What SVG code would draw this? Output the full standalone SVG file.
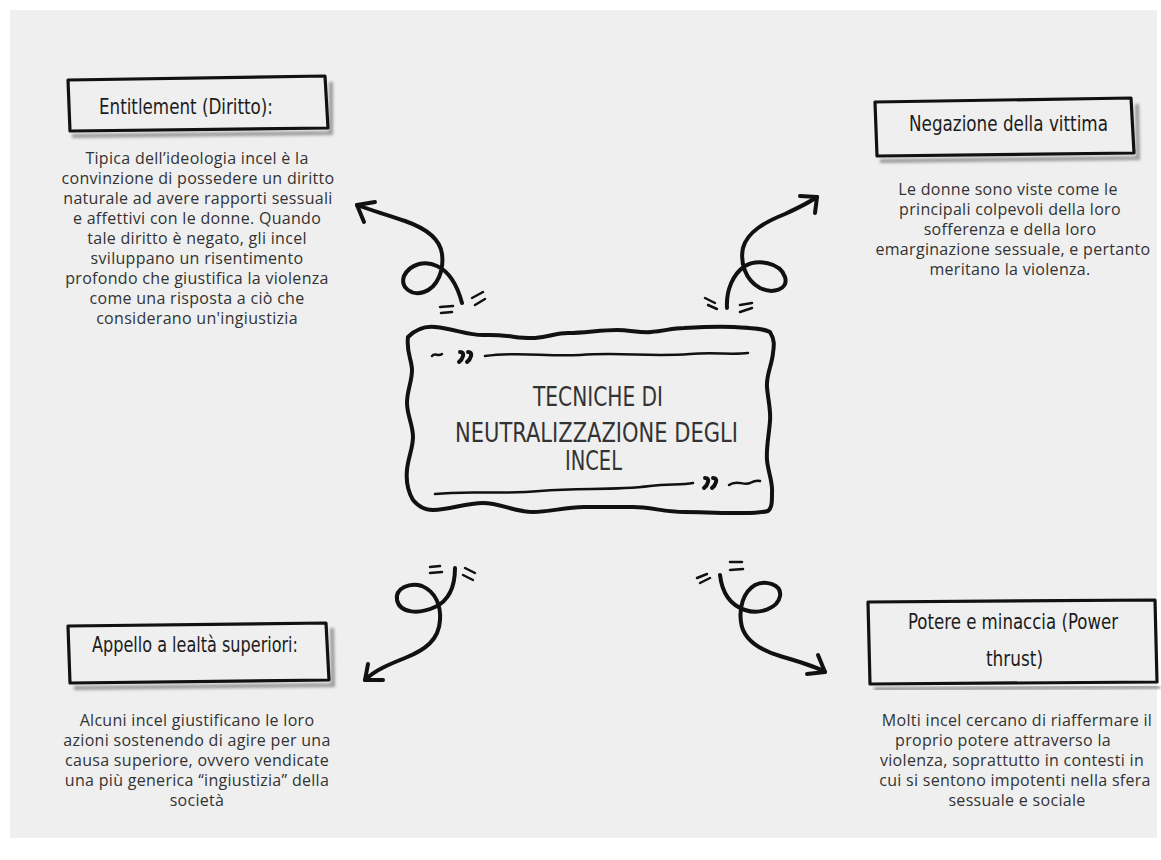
<svg xmlns="http://www.w3.org/2000/svg" width="1161" height="860" viewBox="0 0 1161 860">
<defs>
<filter id="blur" x="-10%" y="-20%" width="120%" height="140%"><feGaussianBlur stdDeviation="1.5"/></filter>
</defs>
<style>
.box{fill:#efefef;stroke:#111;stroke-width:3.2;stroke-linejoin:round}
.shadow{fill:none;stroke:#9a9a9a;stroke-width:4;filter:url(#blur)}
.head{font-family:"DejaVu Sans Condensed","DejaVu Sans",sans-serif;font-size:21px;fill:#1c1c1c;text-anchor:middle}
.title{font-family:"DejaVu Sans Condensed","DejaVu Sans",sans-serif;font-size:26px;fill:#333;text-anchor:middle}
.body{font-family:"Open Sans","Noto Sans",sans-serif;font-size:16px;letter-spacing:0.3px;fill:#333;text-anchor:middle}
.ln{fill:none;stroke:#111;stroke-width:4;stroke-linecap:round;stroke-linejoin:round}
.thin{fill:none;stroke:#111;stroke-width:2.5;stroke-linecap:round}
</style>
<rect x="0" y="0" width="1161" height="860" fill="#ffffff"/>
<rect x="10" y="10" width="1147" height="828" fill="#efefef"/>

<g id="center">
<path d="M408,337 C415,330 425,326 435,327 C455,329 470,336 485,335 C505,334 520,339 535,338 C550,337 555,333 568,333 C585,333 600,330 617,330 C630,330 640,333 651,332 C665,331 672,328 684,328 C700,327 718,326 734,327 C750,328 762,328 770,332 C775,340 774,346 773,353 C772,365 766,375 767,387 C768,400 771,410 770,421 C769,435 766,448 767,460 C768,472 773,482 772,493 C772,502 772,508 768,511 C755,514 745,513 733,513 C715,513 700,512 684,512 C665,512 650,507 633,507 C615,507 600,507 584,507 C565,507 550,512 533,512 C515,512 500,503 483,503 C465,503 450,510 433,510 C425,510 418,506 413,500 C407,490 406,480 407,470 C408,458 413,448 413,437 C413,425 407,415 407,403 C407,390 412,382 412,370 C412,360 406,352 408,337 Z" fill="none" stroke="#111" stroke-width="4"/>
<path class="thin" d="M432,356 C435,352 438,357 442,354"/>
<path class="ln" d="M460,352 q4,0 3,4 q-1,4 -4,6 M468,352 q4,0 3,4 q-1,4 -4,6" stroke-width="3.5"/>
<path class="thin" d="M485,356 C520,351 545,357 580,355 C620,352 650,357 690,354 C715,352 730,355 748,353"/>
<path class="thin" d="M435,494 C470,490 500,495 540,491 C580,487 610,491 650,486 C670,484 682,485 693,483"/>
<path class="ln" d="M705,478 q4,0 3,4 q-1,4 -4,6 M713,478 q4,0 3,4 q-1,4 -4,6" stroke-width="3.5"/>
<path class="thin" d="M729,485 C737,479 743,486 750,483 C754,481 757,480 760,481"/>
<text class="title" x="598" y="406" textLength="130" lengthAdjust="spacingAndGlyphs">TECNICHE DI</text>
<text class="title" x="596.5" y="442" textLength="283" lengthAdjust="spacingAndGlyphs">NEUTRALIZZAZIONE DEGLI</text>
<text class="title" x="593.5" y="470" textLength="57" lengthAdjust="spacingAndGlyphs">INCEL</text>
</g>

<g id="node-entitlement">
<path class="shadow" d="M72,136 L331,133 L331,82"/>
<path class="box" d="M68,80 L325,76 L328,128 L70,131 Z"/>
<text class="head" x="186" y="114" textLength="174" lengthAdjust="spacingAndGlyphs">Entitlement (Diritto):</text>
<text class="body" x="197" y="164">Tipica dell’ideologia incel è la</text>
<text class="body" x="198" y="184">convinzione di possedere un diritto</text>
<text class="body" x="198" y="204">naturale ad avere rapporti sessuali</text>
<text class="body" x="197" y="224">e affettivi con le donne. Quando</text>
<text class="body" x="197" y="244">tale diritto è negato, gli incel</text>
<text class="body" x="197" y="264">sviluppano un risentimento</text>
<text class="body" x="197" y="284">profondo che giustifica la violenza</text>
<text class="body" x="197" y="304">come una risposta a ciò che</text>
<text class="body" x="197" y="324">considerano un'ingiustizia</text>
</g>

<g id="node-negazione">
<path class="shadow" d="M880,161 L1138,158 L1137,104"/>
<path class="box" d="M875,102 L1131,98 L1134,153 L877,156 Z"/>
<text class="head" x="1008.5" y="131" textLength="199" lengthAdjust="spacingAndGlyphs">Negazione della vittima</text>
<text class="body" x="1008" y="195">Le donne sono viste come le</text>
<text class="body" x="1010" y="215">principali colpevoli della loro</text>
<text class="body" x="1010" y="235">sofferenza e della loro</text>
<text class="body" x="1013" y="255">emarginazione sessuale, e pertanto</text>
<text class="body" x="1010" y="275">meritano la violenza.</text>
</g>

<g id="node-appello">
<path class="shadow" d="M74,688 L333,685 L332,628"/>
<path class="box" d="M68,626 L326,623 L329,680 L70,683 Z"/>
<text class="head" x="195" y="652" textLength="206" lengthAdjust="spacingAndGlyphs">Appello a lealtà superiori:</text>
<text class="body" x="197" y="726">Alcuni incel giustificano le loro</text>
<text class="body" x="197" y="746">azioni sostenendo di agire per una</text>
<text class="body" x="197" y="766">causa superiore, ovvero vendicate</text>
<text class="body" x="197" y="786">una più generica “ingiustizia” della</text>
<text class="body" x="197" y="806">società</text>
</g>

<g id="node-potere">
<path class="shadow" d="M874,689 L1160,687"/>
<path class="box" d="M868,602 L1155,600 L1157,682 L870,684 Z"/>
<text class="head" x="1013" y="629" textLength="210" lengthAdjust="spacingAndGlyphs">Potere e minaccia (Power</text>
<text class="head" x="1014.5" y="666" textLength="57" lengthAdjust="spacingAndGlyphs">thrust)</text>
<text class="body" x="1017" y="726">Molti incel cercano di riaffermare il</text>
<text class="body" x="1003" y="746">proprio potere attraverso la</text>
<text class="body" x="1012" y="766">violenza, soprattutto in contesti in</text>
<text class="body" x="1015" y="786">cui si sentono impotenti nella sfera</text>
<text class="body" x="1017" y="806">sessuale e sociale</text>
</g>

<g id="connectors">
<path class="ln" d="M462,303 C458,288 450,272 437,266 C425,260 410,264 404,276 C400,288 412,296 424,292 C438,287 444,270 442,254 C440,238 425,228 405,221 C385,214 370,210 357,205"/>
<path class="ln" d="M375,202 L357,205 L364,222"/>
<path class="thin" d="M440,307 L453,306 M441,313 L452,312 M472,298 L483,292 M475,305 L485,299"/>

<path class="ln" d="M727,308 C726,290 733,274 745,266 C757,259 780,262 785,277 C789,290 772,294 760,288 C745,280 740,262 743,248 C747,232 765,222 785,214 C800,207 810,202 817,197"/>
<path class="ln" d="M800,196 L817,197 L815,213"/>
<path class="thin" d="M705,298 L715,303 M708,305 L717,309 M740,305 L752,303 M740,312 L752,308"/>

<path class="ln" d="M455,568 C455,585 450,600 435,607 C420,614 400,614 397,600 C395,588 410,582 422,586 C436,592 441,606 440,620 C439,640 425,650 405,658 C390,664 375,670 365,680"/>
<path class="ln" d="M368,664 L365,680 L383,680"/>
<path class="thin" d="M430,567 L440,566 M430,573 L442,572 M465,568 L475,573 M463,575 L473,580"/>

<path class="ln" d="M720,575 C722,592 730,605 745,610 C760,615 778,608 780,596 C782,584 765,580 755,585 C743,592 739,608 741,622 C743,640 760,650 780,656 C800,662 815,666 825,672"/>
<path class="ln" d="M807,674 L825,672 L818,655"/>
<path class="thin" d="M697,578 L707,574 M700,583 L710,578 M730,562 L742,562 M730,570 L743,569"/>
</g>
</svg>
